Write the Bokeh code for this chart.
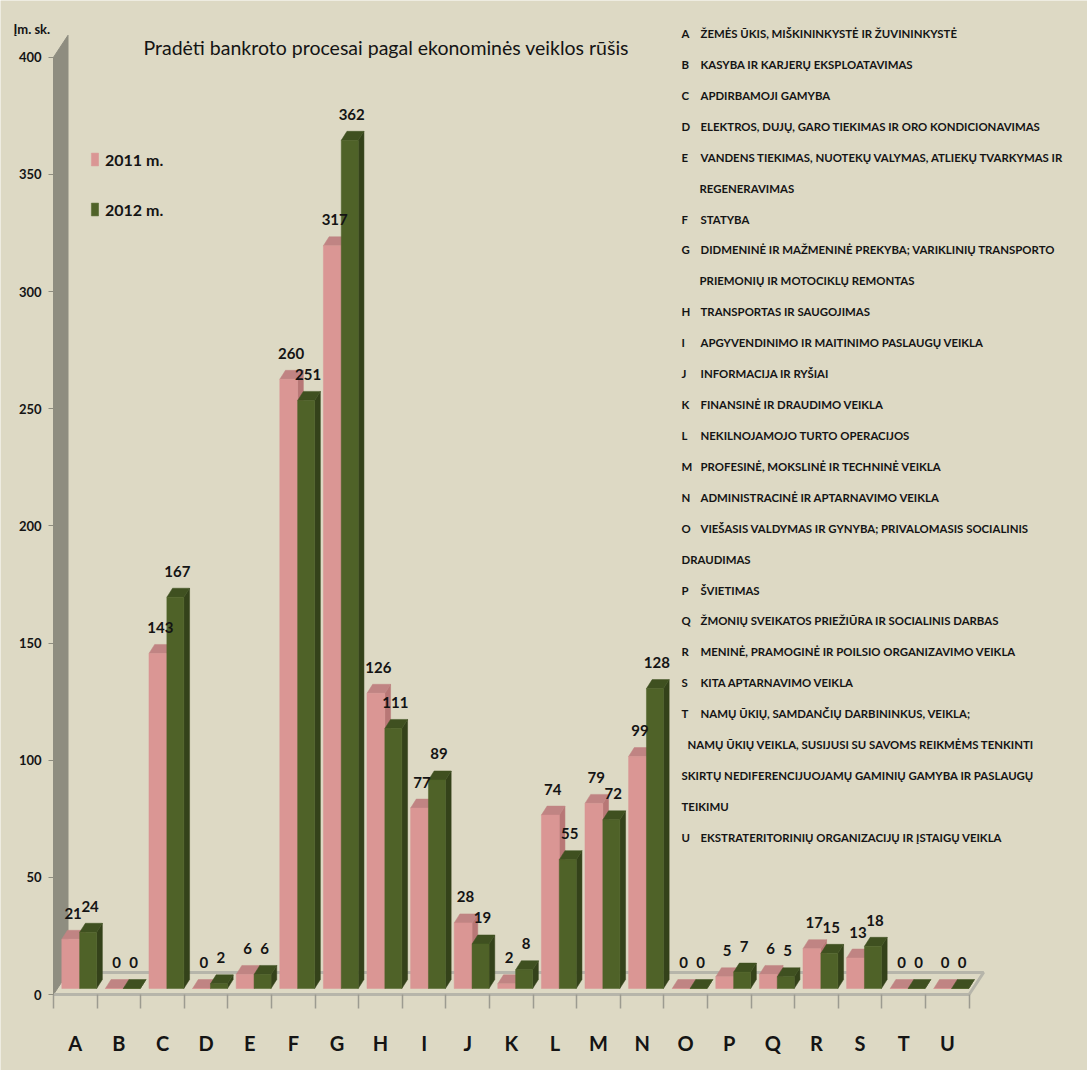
from bokeh.plotting import figure
from bokeh.models import Range1d, FixedTicker, Legend, LegendItem, LinearAxis, ColumnDataSource
from bokeh.core.properties import value
from bokeh.embed import file_html
from bokeh.resources import INLINE

# ---------------- data ----------------
categories = list("ABCDEFGHIJKLMNOPQRSTU")
v2011 = [21, 0, 143, 0, 6, 260, 317, 126, 77, 28, 2, 74, 79, 99, 0, 5, 6, 17, 13, 0, 0]
v2012 = [24, 0, 167, 2, 6, 251, 362, 111, 89, 19, 8, 55, 72, 128, 0, 7, 5, 15, 18, 0, 0]
series_names = ["2011 m.", "2012 m."]
y_ticks = [0, 50, 100, 150, 200, 250, 300, 350, 400]
title_text = "Pradėti bankroto procesai pagal ekonominės veiklos rūšis"
unit_text = "Įm. sk."
legend_codes = ["A", "B", "C", "D", "E", "", "F", "G", "", "H", "I", "J", "K", "L",
                "M", "N", "O", "", "P", "Q", "R", "S", "T", "", "", "", "U"]
legend_texts = [
    "ŽEMĖS ŪKIS, MIŠKININKYSTĖ IR ŽUVININKYSTĖ",
    "KASYBA IR KARJERŲ EKSPLOATAVIMAS",
    "APDIRBAMOJI GAMYBA",
    "ELEKTROS, DUJŲ, GARO TIEKIMAS IR ORO KONDICIONAVIMAS",
    "VANDENS TIEKIMAS, NUOTEKŲ VALYMAS, ATLIEKŲ TVARKYMAS IR",
    "REGENERAVIMAS",
    "STATYBA",
    "DIDMENINĖ IR MAŽMENINĖ PREKYBA; VARIKLINIŲ TRANSPORTO",
    "PRIEMONIŲ IR MOTOCIKLŲ REMONTAS",
    "TRANSPORTAS IR SAUGOJIMAS",
    "APGYVENDINIMO IR MAITINIMO PASLAUGŲ VEIKLA",
    "INFORMACIJA IR RYŠIAI",
    "FINANSINĖ IR DRAUDIMO VEIKLA",
    "NEKILNOJAMOJO TURTO OPERACIJOS",
    "PROFESINĖ, MOKSLINĖ IR TECHNINĖ VEIKLA",
    "ADMINISTRACINĖ IR APTARNAVIMO VEIKLA",
    "VIEŠASIS VALDYMAS IR GYNYBA; PRIVALOMASIS SOCIALINIS",
    "DRAUDIMAS",
    "ŠVIETIMAS",
    "ŽMONIŲ SVEIKATOS PRIEŽIŪRA IR SOCIALINIS DARBAS",
    "MENINĖ, PRAMOGINĖ IR POILSIO ORGANIZAVIMO VEIKLA",
    "KITA APTARNAVIMO VEIKLA",
    "NAMŲ ŪKIŲ, SAMDANČIŲ DARBININKUS, VEIKLA;",
    "NAMŲ ŪKIŲ VEIKLA, SUSIJUSI SU SAVOMS REIKMĖMS TENKINTI",
    "SKIRTŲ NEDIFERENCIJUOJAMŲ GAMINIŲ GAMYBA IR PASLAUGŲ",
    "TEIKIMU",
    "EKSTRATERITORINIŲ ORGANIZACIJŲ IR ĮSTAIGŲ VEIKLA",
]

# ---------------- style / layout ----------------
FONT = "Lato"
TXT = "#141414"
BG = "#DDD9C4"
PINK, PINK_TOP, PINK_SIDE = "#DA9694", "#C08483", "#B87776"
GREEN, GREEN_TOP, GREEN_SIDE = "#4F6228", "#3F5020", "#34421A"
WALL = "#8E8D80"
FLOOR_LINE = "#B6B5AA"

W, H = 1087, 1070
AX0_PX, AX0_PY = 53, 994      # page position of the axes origin
PXX, PXY = 43.6, 2.343        # pixels per unit
X_START = -0.5 - AX0_PX / PXX
X_END = -0.5 + (W - AX0_PX) / PXX
Y_START = -(H - AX0_PY) / PXY
Y_END = AX0_PY / PXY

def X(px):   # page pixel -> data x
    return -0.5 + (px - AX0_PX) / PXX

def Y(py):   # page pixel -> data y
    return (AX0_PY - py) / PXY

BASE = 6 / PXY         # bars sit slightly behind the front edge of the floor
DX, DY = 5.7 / PXX, 9 / PXY
DEPTH_X, DEPTH_Y = 14.5 / PXX, 22 / PXY

p = figure(width=W, height=H, x_range=Range1d(X_START, X_END), y_range=Range1d(Y_START, Y_END),
           output_backend="svg", toolbar_location=None, y_axis_location=None, x_axis_location=None,
           min_border_left=0, min_border_right=0, min_border_top=0, min_border_bottom=0)
p.background_fill_color = BG
p.border_fill_color = BG
p.outline_line_color = None
p.xgrid.visible = False
p.ygrid.visible = False

# wall and floor (decoration)
n = len(categories)
p.patch([-0.5, -0.5, -0.5 + DEPTH_X, -0.5 + DEPTH_X],
        [0, y_ticks[-1], y_ticks[-1] + DEPTH_Y, DEPTH_Y], fill_color=WALL, line_color=WALL)
p.line([-0.5 + DEPTH_X, n - 0.5 + DEPTH_X, n - 0.5],
       [DEPTH_Y, DEPTH_Y, 0], line_color=FLOOR_LINE, line_width=3)

# 3D bars
specs = [(v2011, -0.31, 0.10, PINK, PINK_TOP, PINK_SIDE, -0.05),
         (v2012, 0.10, 0.49, GREEN, GREEN_TOP, GREEN_SIDE, 0.34)]
front_renderers = []
label_sources = []
for vals, lo, hi, c_front, c_top, c_side, lab_off in specs:
    xl = [i + lo for i in range(n)]
    xr = [i + hi for i in range(n)]
    tops = [BASE + v for v in vals]
    side_xs = [[r, r, r + DX, r + DX] for r in xr]
    side_ys = [[BASE, t, t + DY, BASE + DY] for t in tops]
    p.patches(side_xs, side_ys, fill_color=c_side, line_color=c_side, line_width=0.5)
    top_xs = [[l, r, r + DX, l + DX] for l, r in zip(xl, xr)]
    top_ys = [[t, t, t + DY, t + DY] for t in tops]
    p.patches(top_xs, top_ys, fill_color=c_top, line_color=c_top, line_width=0.5)
    src = ColumnDataSource(dict(l=xl, r=xr, b=[BASE] * n, t=tops))
    fr = p.quad(left="l", right="r", bottom="b", top="t", source=src,
                fill_color=c_front, line_color=c_front, line_width=0.5)
    front_renderers.append(fr)
    label_sources.append(ColumnDataSource(dict(x=[i + lab_off for i in range(n)],
                                               y=[t + DY + 17 / PXY for t in tops],
                                               txt=[str(v) for v in vals])))

# value labels drawn on top of every bar
for lab in label_sources:
    p.text(x="x", y="y", text="txt", source=lab, text_align="center", text_baseline="middle",
           text_font=value(FONT), text_font_size="15px", text_font_style="bold", text_color=TXT)

# x axis along the front edge of the floor
xa = LinearAxis(fixed_location=0, bounds=(-0.5, n - 0.5),
                ticker=FixedTicker(ticks=list(range(n)), minor_ticks=[i - 0.5 for i in range(n + 1)]))
xa.major_label_overrides = {i: c for i, c in enumerate(categories)}
xa.axis_line_color = FLOOR_LINE
xa.axis_line_width = 3
xa.major_tick_line_color = None
xa.major_tick_out = 0
xa.major_tick_in = 0
xa.minor_tick_line_color = "#9C9B90"
xa.minor_tick_line_width = 1.5
xa.minor_tick_out = 14
xa.minor_tick_in = 0
xa.major_label_standoff = 22
xa.major_label_text_font = FONT
xa.major_label_text_font_size = "20px"
xa.major_label_text_font_style = "bold"
xa.major_label_text_color = TXT
p.add_layout(xa, "below")

# y axis drawn at the data position of the wall
ya = LinearAxis(fixed_location=-0.5, ticker=FixedTicker(ticks=y_ticks), bounds=(0, y_ticks[-1]))
ya.axis_line_color = WALL
ya.major_tick_line_color = WALL
ya.major_tick_out = 5
ya.major_tick_in = 0
ya.minor_tick_line_color = None
ya.major_label_standoff = 7
ya.major_label_text_font = FONT
ya.major_label_text_font_size = "13px"
ya.major_label_text_font_style = "bold"
ya.major_label_text_color = TXT
p.add_layout(ya, "left")

# legend
legend = Legend(items=[LegendItem(label=series_names[k], renderers=[front_renderers[k]]) for k in range(2)],
                location=(90, 851), orientation="vertical", spacing=30, padding=0, margin=0,
                glyph_width=9, glyph_height=16, label_standoff=6, label_height=20,
                label_text_font=FONT, label_text_font_size="16px", label_text_font_style="bold",
                label_text_color=TXT, background_fill_alpha=0, border_line_color=None)
p.add_layout(legend)

# title and unit
p.text(x=[X(143)], y=[Y(47)], text=[title_text], text_align="left", text_baseline="middle",
       text_font=value(FONT), text_font_size="19.5px", text_color=TXT)
p.text(x=[X(13)], y=[Y(28)], text=[unit_text], text_align="left", text_baseline="middle",
       text_font=value(FONT), text_font_size="13px", text_font_style="bold", text_color=TXT)

# category description list (right side)
cont_x = {5: 699, 8: 699, 17: 681, 23: 687, 24: 681, 25: 681}
lx, ly, lt, cx, cy, ct = [], [], [], [], [], []
for i, (code, txt) in enumerate(zip(legend_codes, legend_texts)):
    yy = Y(33 + 30.92 * i)
    if code:
        cx.append(X(681)); cy.append(yy); ct.append(code)
        lx.append(X(700)); ly.append(yy); lt.append(txt)
    else:
        lx.append(X(cont_x.get(i, 699))); ly.append(yy); lt.append(txt)
p.text(x=cx, y=cy, text=ct, text_align="left", text_baseline="middle",
       text_font=value(FONT), text_font_size="11.4px", text_font_style="bold", text_color=TXT)
p.text(x=lx, y=ly, text=lt, text_align="left", text_baseline="middle",
       text_font=value(FONT), text_font_size="11.4px", text_font_style="bold", text_color=TXT)

open("out.html", "w").write(file_html(p, INLINE))
